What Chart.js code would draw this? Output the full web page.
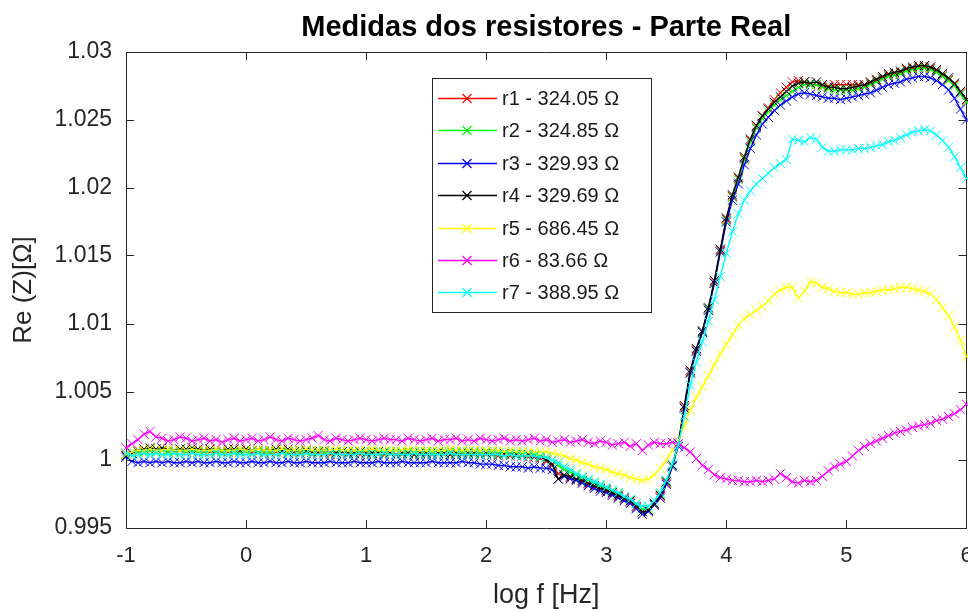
<!DOCTYPE html>
<html>
<head>
<meta charset="utf-8">
<script src="https://cdn.jsdelivr.net/npm/chart.js@4.4.1/dist/chart.umd.min.js"></script>
<style>
  html, body { margin: 0; padding: 0; background: #fff; overflow: hidden; }
  #wrap { width: 968px; height: 612px; overflow: hidden; }
</style>
</head>
<body>
<div id="wrap"><canvas id="chart" width="974" height="612"></canvas></div>
<script>
// log f [Hz]
const XS = [
  -1, -0.95, -0.9, -0.85, -0.8, -0.75, -0.7, -0.65, -0.6, -0.55,
  -0.5, -0.45, -0.4, -0.35, -0.3, -0.25, -0.2, -0.15, -0.1, -0.05,
  0, 0.05, 0.1, 0.15, 0.2, 0.25, 0.3, 0.35, 0.4, 0.45,
  0.5, 0.55, 0.6, 0.65, 0.7, 0.75, 0.8, 0.85, 0.9, 0.95,
  1, 1.05, 1.1, 1.15, 1.2, 1.25, 1.3, 1.35, 1.4, 1.45,
  1.5, 1.55, 1.6, 1.65, 1.7, 1.75, 1.8, 1.85, 1.9, 1.95,
  2, 2.05, 2.1, 2.15, 2.2, 2.25, 2.3, 2.35, 2.4, 2.45,
  2.5, 2.55, 2.6, 2.65, 2.7, 2.75, 2.8, 2.85, 2.9, 2.95,
  3, 3.05, 3.1, 3.15, 3.2, 3.25, 3.3, 3.35, 3.4, 3.45,
  3.5, 3.55, 3.6, 3.65, 3.7, 3.75, 3.8, 3.85, 3.9, 3.95,
  4, 4.05, 4.1, 4.15, 4.2, 4.25, 4.3, 4.35, 4.4, 4.45,
  4.5, 4.55, 4.6, 4.65, 4.7, 4.75, 4.8, 4.85, 4.9, 4.95,
  5, 5.05, 5.1, 5.15, 5.2, 5.25, 5.3, 5.35, 5.4, 5.45,
  5.5, 5.55, 5.6, 5.65, 5.7, 5.75, 5.8, 5.85, 5.9, 5.95,
  6
];

// Re(Z) normalised, one array per resistor
const R1 = [
  1.0004, 1.0005, 1.0006, 1.0007, 1.0007, 1.0006, 1.0007, 1.0006, 1.0006, 1.0007,
  1.0006, 1.0006, 1.0007, 1.0006, 1.0006, 1.0005, 1.0006, 1.0006, 1.0005, 1.0006,
  1.0006, 1.0005, 1.0006, 1.0005, 1.0005, 1.0006, 1.0005, 1.0005, 1.0004, 1.0005,
  1.0005, 1.0004, 1.0005, 1.0005, 1.0004, 1.0005, 1.0004, 1.0004, 1.0005, 1.0004,
  1.0004, 1.0005, 1.0004, 1.0004, 1.0005, 1.0004, 1.0004, 1.0005, 1.0004, 1.0004,
  1.0004, 1.0004, 1.0005, 1.0004, 1.0004, 1.0004, 1.0005, 1.0004, 1.0004, 1.0004,
  1.0004, 1.0004, 1.0003, 1.0004, 1.0003, 1.0003, 1.0003, 1.0002, 1.0002, 1.0001,
  0.9999, 0.9996, 0.9990, 0.9989, 0.9987, 0.9986, 0.9984, 0.9982, 0.9980, 0.9979,
  0.9977, 0.9975, 0.9973, 0.9971, 0.9969, 0.9965, 0.9962, 0.9963, 0.9967, 0.9973,
  0.9983, 0.9996, 1.0012, 1.0039, 1.0065, 1.0081, 1.0094, 1.0111, 1.0131, 1.0154,
  1.0177, 1.0194, 1.0207, 1.0222, 1.0235, 1.0245, 1.0253, 1.0259, 1.0265, 1.0270,
  1.0274, 1.0278, 1.0279, 1.0278, 1.0276, 1.0276, 1.0275, 1.0275, 1.0276, 1.0276,
  1.0276, 1.0276, 1.0276, 1.0275, 1.0277, 1.0279, 1.0281, 1.0283, 1.0284, 1.0285,
  1.0287, 1.0288, 1.0289, 1.0289, 1.0288, 1.0286, 1.0283, 1.0280, 1.0276, 1.0270,
  1.0264
];
const R2 = [
  1.0004, 1.0005, 1.0006, 1.0006, 1.0007, 1.0006, 1.0007, 1.0006, 1.0006, 1.0007,
  1.0006, 1.0007, 1.0006, 1.0006, 1.0007, 1.0006, 1.0006, 1.0007, 1.0006, 1.0006,
  1.0006, 1.0007, 1.0006, 1.0006, 1.0006, 1.0007, 1.0006, 1.0006, 1.0007, 1.0006,
  1.0006, 1.0006, 1.0007, 1.0006, 1.0006, 1.0006, 1.0007, 1.0006, 1.0006, 1.0006,
  1.0007, 1.0006, 1.0006, 1.0006, 1.0006, 1.0007, 1.0006, 1.0006, 1.0006, 1.0006,
  1.0006, 1.0006, 1.0006, 1.0007, 1.0006, 1.0006, 1.0006, 1.0006, 1.0006, 1.0005,
  1.0006, 1.0006, 1.0005, 1.0006, 1.0005, 1.0005, 1.0005, 1.0004, 1.0004, 1.0003,
  1.0002, 1.0000, 0.9996, 0.9993, 0.9991, 0.9989, 0.9987, 0.9985, 0.9983, 0.9981,
  0.9979, 0.9977, 0.9975, 0.9973, 0.9971, 0.9968, 0.9964, 0.9964, 0.9968, 0.9975,
  0.9984, 0.9996, 1.0012, 1.0038, 1.0064, 1.0080, 1.0094, 1.0111, 1.0130, 1.0153,
  1.0176, 1.0193, 1.0206, 1.0221, 1.0234, 1.0244, 1.0251, 1.0256, 1.0261, 1.0265,
  1.0268, 1.0271, 1.0274, 1.0276, 1.0276, 1.0276, 1.0274, 1.0273, 1.0272, 1.0272,
  1.0272, 1.0272, 1.0273, 1.0274, 1.0276, 1.0278, 1.0280, 1.0282, 1.0283, 1.0284,
  1.0286, 1.0287, 1.0288, 1.0288, 1.0287, 1.0285, 1.0282, 1.0279, 1.0275, 1.0269,
  1.0263
];
const R3 = [
  1.0002, 0.9999, 0.9998, 0.9999, 0.9998, 0.9999, 0.9998, 0.9999, 0.9998, 0.9998,
  0.9999, 0.9998, 0.9999, 0.9998, 0.9998, 0.9999, 0.9998, 0.9998, 0.9999, 0.9998,
  0.9998, 0.9999, 0.9998, 0.9998, 0.9999, 0.9998, 0.9998, 0.9999, 0.9998, 0.9998,
  0.9999, 0.9998, 0.9998, 0.9998, 0.9999, 0.9998, 0.9998, 0.9998, 0.9999, 0.9998,
  0.9998, 0.9998, 0.9999, 0.9998, 0.9998, 0.9998, 0.9999, 0.9998, 0.9998, 0.9998,
  0.9998, 0.9999, 0.9998, 0.9998, 0.9998, 0.9998, 0.9999, 0.9998, 0.9998, 0.9997,
  0.9997, 0.9997, 0.9996, 0.9996, 0.9995, 0.9995, 0.9995, 0.9994, 0.9995, 0.9994,
  0.9994, 0.9993, 0.9986, 0.9988, 0.9986, 0.9985, 0.9983, 0.9981, 0.9979, 0.9977,
  0.9976, 0.9974, 0.9972, 0.9970, 0.9968, 0.9964, 0.9960, 0.9962, 0.9967, 0.9972,
  0.9982, 0.9995, 1.0010, 1.0038, 1.0064, 1.0080, 1.0094, 1.0110, 1.0130, 1.0153,
  1.0175, 1.0191, 1.0203, 1.0217, 1.0229, 1.0239, 1.0247, 1.0252, 1.0257, 1.0261,
  1.0264, 1.0267, 1.0269, 1.0270, 1.0269, 1.0268, 1.0267, 1.0266, 1.0266, 1.0265,
  1.0266, 1.0267, 1.0268, 1.0269, 1.0270, 1.0272, 1.0274, 1.0276, 1.0277, 1.0278,
  1.0280, 1.0281, 1.0282, 1.0282, 1.0281, 1.0279, 1.0276, 1.0272, 1.0266, 1.0258,
  1.0250
];
const R4 = [
  1.0003, 1.0005, 1.0007, 1.0008, 1.0009, 1.0008, 1.0009, 1.0008, 1.0007, 1.0008,
  1.0008, 1.0009, 1.0008, 1.0007, 1.0008, 1.0008, 1.0007, 1.0008, 1.0008, 1.0007,
  1.0008, 1.0007, 1.0008, 1.0007, 1.0007, 1.0008, 1.0007, 1.0008, 1.0006, 1.0007,
  1.0007, 1.0006, 1.0006, 1.0007, 1.0006, 1.0005, 1.0006, 1.0005, 1.0005, 1.0006,
  1.0005, 1.0005, 1.0006, 1.0005, 1.0005, 1.0004, 1.0005, 1.0005, 1.0004, 1.0005,
  1.0005, 1.0004, 1.0005, 1.0005, 1.0004, 1.0005, 1.0004, 1.0005, 1.0005, 1.0004,
  1.0005, 1.0004, 1.0004, 1.0005, 1.0004, 1.0004, 1.0003, 1.0004, 1.0003, 1.0002,
  1.0000, 0.9997, 0.9986, 0.9989, 0.9988, 0.9986, 0.9985, 0.9983, 0.9981, 0.9979,
  0.9978, 0.9976, 0.9974, 0.9972, 0.9970, 0.9966, 0.9962, 0.9963, 0.9968, 0.9974,
  0.9984, 0.9996, 1.0012, 1.0040, 1.0066, 1.0082, 1.0095, 1.0112, 1.0132, 1.0155,
  1.0178, 1.0195, 1.0208, 1.0223, 1.0236, 1.0246, 1.0253, 1.0258, 1.0263, 1.0267,
  1.0271, 1.0275, 1.0277, 1.0278, 1.0277, 1.0278, 1.0276, 1.0274, 1.0274, 1.0273,
  1.0273, 1.0274, 1.0275, 1.0276, 1.0278, 1.0280, 1.0282, 1.0284, 1.0285, 1.0286,
  1.0288, 1.0289, 1.0290, 1.0290, 1.0289, 1.0287, 1.0284, 1.0281, 1.0277, 1.0271,
  1.0265
];
const R5 = [
  1.0004, 1.0006, 1.0007, 1.0007, 1.0008, 1.0007, 1.0007, 1.0008, 1.0007, 1.0007,
  1.0007, 1.0008, 1.0007, 1.0007, 1.0007, 1.0008, 1.0007, 1.0007, 1.0007, 1.0008,
  1.0007, 1.0007, 1.0008, 1.0007, 1.0007, 1.0007, 1.0008, 1.0007, 1.0007, 1.0007,
  1.0008, 1.0007, 1.0007, 1.0007, 1.0007, 1.0008, 1.0007, 1.0007, 1.0007, 1.0007,
  1.0007, 1.0008, 1.0007, 1.0007, 1.0007, 1.0007, 1.0007, 1.0008, 1.0007, 1.0007,
  1.0007, 1.0007, 1.0007, 1.0007, 1.0008, 1.0007, 1.0007, 1.0007, 1.0007, 1.0007,
  1.0007, 1.0007, 1.0007, 1.0006, 1.0007, 1.0006, 1.0006, 1.0006, 1.0006, 1.0006,
  1.0006, 1.0005, 1.0004, 1.0003, 1.0001, 1.0000, 0.9998, 0.9997, 0.9995, 0.9994,
  0.9993, 0.9991, 0.9990, 0.9989, 0.9987, 0.9986, 0.9985, 0.9986, 0.9989, 0.9994,
  1.0000, 1.0007, 1.0014, 1.0025, 1.0037, 1.0046, 1.0054, 1.0062, 1.0070, 1.0078,
  1.0085, 1.0092, 1.0099, 1.0104, 1.0107, 1.0110, 1.0113, 1.0117, 1.0122, 1.0125,
  1.0127, 1.0127, 1.0119, 1.0124, 1.0131, 1.0130, 1.0127, 1.0126, 1.0124, 1.0123,
  1.0123, 1.0122, 1.0122, 1.0123, 1.0123, 1.0124, 1.0125, 1.0125, 1.0126, 1.0127,
  1.0127, 1.0126, 1.0125, 1.0124, 1.0122, 1.0118, 1.0112, 1.0106, 1.0098, 1.0088,
  1.0076
];
const R6 = [
  1.0009, 1.0012, 1.0015, 1.0019, 1.0021, 1.0017, 1.0016, 1.0014, 1.0015, 1.0017,
  1.0016, 1.0014, 1.0015, 1.0016, 1.0014, 1.0015, 1.0013, 1.0015, 1.0016, 1.0014,
  1.0015, 1.0016, 1.0014, 1.0015, 1.0017, 1.0015, 1.0014, 1.0016, 1.0015, 1.0014,
  1.0015, 1.0016, 1.0018, 1.0015, 1.0014, 1.0016, 1.0015, 1.0014, 1.0015, 1.0016,
  1.0015, 1.0014, 1.0015, 1.0016, 1.0015, 1.0015, 1.0014, 1.0016, 1.0015, 1.0014,
  1.0015, 1.0016, 1.0014, 1.0015, 1.0015, 1.0016, 1.0014, 1.0015, 1.0014, 1.0016,
  1.0015, 1.0014, 1.0015, 1.0016, 1.0014, 1.0015, 1.0014, 1.0015, 1.0016, 1.0014,
  1.0015, 1.0013, 1.0014, 1.0015, 1.0013, 1.0014, 1.0015, 1.0013, 1.0012, 1.0014,
  1.0013, 1.0011, 1.0012, 1.0013, 1.0010, 1.0012, 1.0007, 1.0011, 1.0013, 1.0012,
  1.0012, 1.0013, 1.0012, 1.0009, 1.0006, 1.0001, 0.9996, 0.9993, 0.9989, 0.9987,
  0.9986, 0.9985, 0.9985, 0.9984, 0.9984, 0.9985, 0.9984, 0.9985, 0.9986, 0.9990,
  0.9987, 0.9984, 0.9983, 0.9985, 0.9984, 0.9985, 0.9988, 0.9992, 0.9995, 0.9997,
  0.9999, 1.0003, 1.0007, 1.0010, 1.0012, 1.0014, 1.0016, 1.0018, 1.0020, 1.0021,
  1.0022, 1.0024, 1.0025, 1.0026, 1.0027, 1.0029, 1.0030, 1.0032, 1.0034, 1.0037,
  1.0041
];
const R7 = [
  1.0005, 1.0003, 1.0004, 1.0005, 1.0004, 1.0005, 1.0004, 1.0004, 1.0005, 1.0004,
  1.0004, 1.0005, 1.0004, 1.0004, 1.0004, 1.0005, 1.0004, 1.0004, 1.0005, 1.0004,
  1.0004, 1.0004, 1.0005, 1.0004, 1.0004, 1.0004, 1.0005, 1.0004, 1.0004, 1.0004,
  1.0005, 1.0004, 1.0004, 1.0004, 1.0005, 1.0004, 1.0004, 1.0004, 1.0004, 1.0005,
  1.0004, 1.0004, 1.0004, 1.0005, 1.0004, 1.0004, 1.0004, 1.0004, 1.0005, 1.0004,
  1.0004, 1.0004, 1.0004, 1.0004, 1.0005, 1.0004, 1.0004, 1.0004, 1.0004, 1.0004,
  1.0004, 1.0004, 1.0004, 1.0003, 1.0004, 1.0003, 1.0003, 1.0003, 1.0003, 1.0002,
  1.0002, 1.0000, 0.9998, 0.9995, 0.9993, 0.9990, 0.9988, 0.9986, 0.9984, 0.9982,
  0.9980, 0.9978, 0.9976, 0.9973, 0.9971, 0.9968, 0.9966, 0.9966, 0.9970, 0.9976,
  0.9985, 0.9997, 1.0011, 1.0032, 1.0055, 1.0072, 1.0087, 1.0102, 1.0118, 1.0135,
  1.0152, 1.0168, 1.0181, 1.0191, 1.0198, 1.0203, 1.0207, 1.0211, 1.0215, 1.0218,
  1.0221, 1.0236, 1.0235, 1.0234, 1.0237, 1.0236, 1.0230, 1.0227, 1.0227, 1.0228,
  1.0228, 1.0228, 1.0229, 1.0229, 1.0230, 1.0231, 1.0232, 1.0234, 1.0235, 1.0237,
  1.0239, 1.0241, 1.0242, 1.0243, 1.0242, 1.0239, 1.0235, 1.0230, 1.0223, 1.0215,
  1.0207
];

const SERIES = [R1, R2, R3, R4, R5, R6, R7];
const LABELS = [
  'r1 - 324.05 Ω', 'r2 - 324.85 Ω', 'r3 - 329.93 Ω', 'r4 - 329.69 Ω',
  'r5 - 686.45 Ω', 'r6 - 83.66 Ω', 'r7 - 388.95 Ω'
];
const COLORS = ['#ff0000', '#00ff00', '#0000ff', '#000000', '#ffff00', '#ff00ff', '#00ffff'];

const AXIS = '#262626';
const FONT = '"Liberation Sans", Arial, Helvetica, sans-serif';
Chart.defaults.font.family = FONT;
Chart.defaults.color = AXIS;

// legend box drawn inside the axes, like the original figure
const boxLegend = {
  id: 'boxLegend',
  afterDraw(chart) {
    const ctx = chart.ctx;
    const area = chart.chartArea;
    const left = area.left + 306, top = area.top + 26, w = 219, h = 234;
    ctx.save();
    ctx.fillStyle = '#fff';
    ctx.fillRect(left, top, w, h);
    ctx.strokeStyle = AXIS;
    ctx.lineWidth = 1;
    ctx.strokeRect(left + 0.5, top + 0.5, w, h);
    ctx.font = '20px ' + FONT;
    ctx.textBaseline = 'middle';
    chart.data.datasets.forEach((ds, i) => {
      const cy = Math.round(top + 20 + i * 32.4) + 0.5;
      ctx.strokeStyle = ds.borderColor;
      ctx.lineWidth = 1.5;
      ctx.beginPath();
      ctx.moveTo(left + 6, cy);
      ctx.lineTo(left + 65, cy);
      ctx.stroke();
      const mx = left + 35, r = 4.5;
      ctx.lineWidth = 1.2;
      ctx.beginPath();
      ctx.moveTo(mx - r, cy - r); ctx.lineTo(mx + r, cy + r);
      ctx.moveTo(mx + r, cy - r); ctx.lineTo(mx - r, cy + r);
      ctx.stroke();
      ctx.fillStyle = '#1a1a1a';
      ctx.fillText(ds.label, left + 70, cy + 1);
    });
    ctx.restore();
  }
};

const inwardGrid = { display: true, drawOnChartArea: false, drawTicks: true, tickLength: -8, color: AXIS, lineWidth: 1 };
const frame = { display: true, color: AXIS, width: 1 };

new Chart(document.getElementById('chart'), {
  type: 'line',
  data: {
    datasets: SERIES.map((vals, i) => ({
      label: LABELS[i],
      data: XS.map((x, j) => ({ x: x, y: vals[j] })),
      xAxisID: 'x',
      yAxisID: 'y',
      borderColor: COLORS[i],
      backgroundColor: COLORS[i],
      borderWidth: 1.4,
      tension: 0,
      fill: false,
      pointStyle: 'crossRot',
      pointRadius: 6.5,
      pointHoverRadius: 6.5,
      pointBorderWidth: 1,
      pointBorderColor: COLORS[i],
      order: SERIES.length - i,
      clip: false
    }))
  },
  options: {
    responsive: false,
    animation: false,
    devicePixelRatio: 1,
    layout: { padding: { left: 0, right: 2, top: 0, bottom: 0 } },
    plugins: {
      legend: { display: false },
      tooltip: { enabled: false },
      title: {
        display: true,
        fullSize: false,
        text: 'Medidas dos resistores - Parte Real',
        color: '#000',
        font: { size: 29, weight: 'bold' },
        padding: { top: 11, bottom: 6.2 }
      }
    },
    scales: {
      x: {
        type: 'linear', axis: 'x', position: 'bottom',
        min: -1, max: 6,
        ticks: { stepSize: 1, font: { size: 22 }, color: AXIS, padding: 23, maxRotation: 0 },
        grid: inwardGrid,
        border: frame,
        title: { display: true, text: 'log f [Hz]', font: { size: 27 }, color: AXIS, padding: { top: 0, bottom: 0 } },
        afterFit: s => { s.height = 84; s.paddingLeft = 0; s.paddingRight = 0; }
      },
      y: {
        type: 'linear', axis: 'y', position: 'left',
        min: 0.995, max: 1.03,
        ticks: { stepSize: 0.005, font: { size: 23 }, color: AXIS, padding: 22, callback: v => String(Number(v.toFixed(3))) },
        grid: inwardGrid,
        border: frame,
        title: { display: true, text: 'Re (Z)[Ω]', font: { size: 26 }, color: AXIS, padding: { top: 8, bottom: 0 } },
        afterFit: s => { s.width = 126; }
      },
      x2: {
        type: 'linear', axis: 'x', position: 'top',
        min: -1, max: 6,
        ticks: { stepSize: 1, display: false },
        grid: inwardGrid,
        border: frame,
        afterFit: s => { s.height = 0; s.paddingLeft = 0; s.paddingRight = 0; }
      },
      y2: {
        type: 'linear', axis: 'y', position: 'right',
        min: 0.995, max: 1.03,
        ticks: { stepSize: 0.005, display: false },
        grid: inwardGrid,
        border: frame,
        afterFit: s => { s.width = 0; }
      }
    }
  },
  plugins: [boxLegend]
});
</script>
</body>
</html>
